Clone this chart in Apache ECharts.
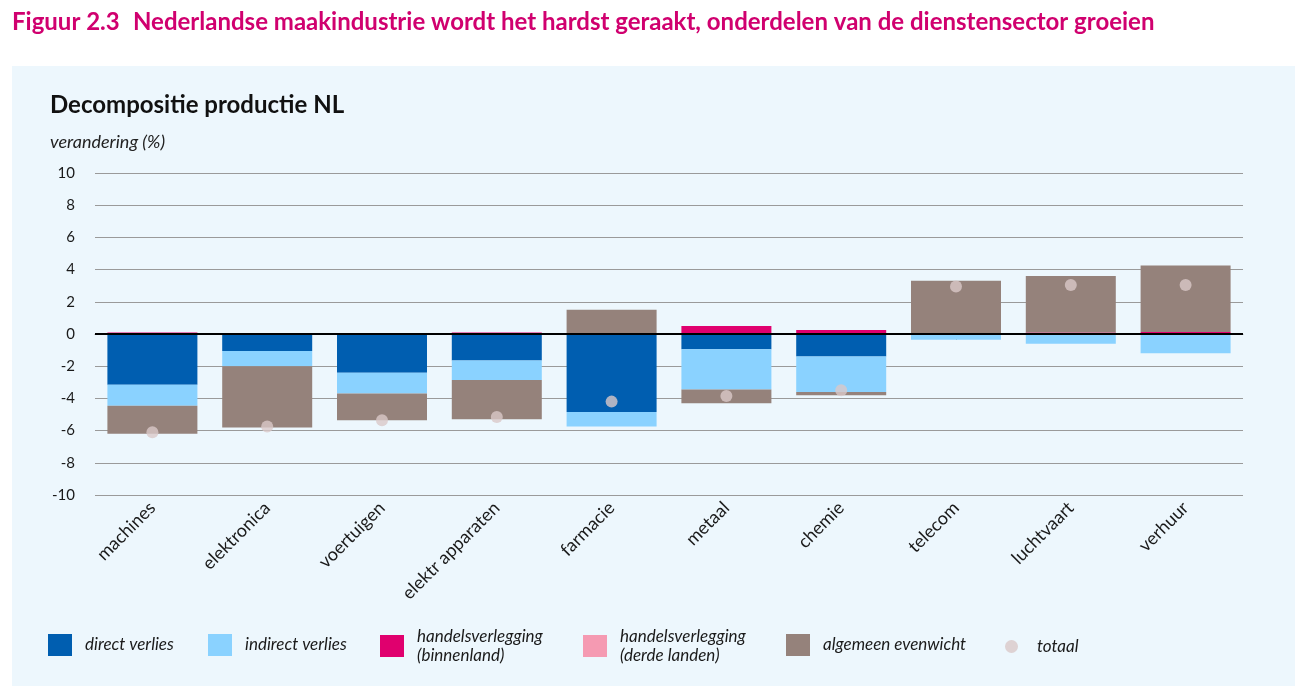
<!DOCTYPE html>
<html>
<head>
<meta charset="utf-8">
<script src="https://cdn.jsdelivr.net/npm/echarts@6/dist/echarts.min.js"></script>
<style>
html,body{margin:0;padding:0;background:#ffffff;}
#chart{width:1300px;height:696px;}
</style>
</head>
<body>
<div id="chart"></div>
<script>
var categories = ['machines','elektronica','voertuigen','elektr apparaten','farmacie','metaal','chemie','telecom','luchtvaart','verhuur'];
var directVerlies = [-3.15,-1.05,-2.4,-1.65,-4.85,-0.95,-1.4,0,0,0];
var indirectVerlies = [-1.3,-0.95,-1.3,-1.2,-0.9,-2.5,-2.2,-0.35,-0.6,-1.2];
var handelsBinnenland = [0.1,0,0,0.1,0,0.5,0.25,0,0.1,0.12];
var handelsDerdeLanden = [0,0,0,0,0,0,0,0,0,0];
var algemeenEvenwicht = [-1.75,-3.8,-1.65,-2.45,1.5,-0.85,-0.2,3.3,3.5,4.13];
var totaal = [-6.1,-5.75,-5.35,-5.15,-4.2,-3.85,-3.5,2.95,3.05,3.05];
var yTicks = {min:-10, max:10, interval:2};

var FONT = 'Lato';
var names = ['direct verlies','indirect verlies','handelsverlegging\n(binnenland)','handelsverlegging\n(derde landen)','algemeen evenwicht','totaal'];
var colors = ['#005eb0','#8ad2ff','#e0006e','#f59ab2','#95827b','#d9c8c8'];

function barSeries(i, data){
  return {
    name: names[i], type:'bar', stack:'s', data:data, barWidth:90,
    itemStyle:{color:colors[i]}, emphasis:{disabled:true}
  };
}
var series = [
  barSeries(0, directVerlies),
  barSeries(1, indirectVerlies),
  barSeries(2, handelsBinnenland),
  barSeries(3, handelsDerdeLanden),
  barSeries(4, algemeenEvenwicht),
  {
    name: names[5], type:'scatter', data: totaal, symbol:'circle', symbolSize:12, z:5,
    itemStyle:{color:colors[5]},
    markLine:{silent:true, symbol:'none', label:{show:false}, z:4,
      lineStyle:{color:'#000', width:2, type:'solid'}, data:[{yAxis:0}]}
  }
];

var legendPos = [
  {left:43, top:629},
  {left:203, top:629},
  {left:375, top:622},
  {left:578, top:622},
  {left:781, top:629},
  {left:1000, top:632}
];
var legends = names.map(function(n,i){
  var isDot = i===5;
  return {
    data:[{name:n, icon: isDot?'circle':'rect'}],
    left: legendPos[i].left, top: legendPos[i].top,
    itemWidth: isDot?13:24, itemHeight: isDot?13:22,
    selectedMode:false,
    textStyle:{fontFamily:FONT, fontStyle:'italic', fontSize:17, color:'#1a1a1a', lineHeight:19, padding:[0,0,0,isDot?14:8]}
  };
});

var chart = echarts.init(document.getElementById('chart'), null, {renderer:'canvas'});
chart.setOption({
  animation:false,
  backgroundColor:'#ffffff',
  graphic:[{type:'rect', shape:{x:12,y:66,width:1283,height:620}, style:{fill:'#edf7fd'}, z:-10, silent:true}],
  title:[
    {text:'Figuur 2.3', left:7, top:5, textStyle:{fontFamily:FONT, fontWeight:'bold', fontSize:24, color:'#d0006f'}},
    {text:'Nederlandse maakindustrie wordt het hardst geraakt, onderdelen van de dienstensector groeien', left:128, top:5, textStyle:{fontFamily:FONT, fontWeight:'bold', fontSize:24, color:'#d0006f'}},
    {text:'Decompositie productie NL', left:45, top:88, textStyle:{fontFamily:FONT, fontWeight:'bold', fontSize:24, color:'#111'}},
    {text:'verandering (%)', left:45, top:128, textStyle:{fontFamily:FONT, fontStyle:'italic', fontWeight:'normal', fontSize:18, color:'#222'}}
  ],
  legend: legends,
  grid:{left:95, right:57, top:173, bottom:201},
  xAxis:{
    type:'category', data:categories,
    axisLine:{show:true, lineStyle:{color:'#9a9a9a', width:1}},
    axisTick:{show:true, alignWithLabel:true, length:6, lineStyle:{color:'#9a9a9a'}},
    axisLabel:{rotate:45, margin:10, fontFamily:FONT, fontSize:18, color:'#1a1a1a', interval:0},
    splitLine:{show:false}
  },
  yAxis:{
    type:'value', min:yTicks.min, max:yTicks.max, interval:yTicks.interval,
    axisLine:{show:false}, axisTick:{show:false},
    axisLabel:{margin:20, fontFamily:FONT, fontSize:15, color:'#1a1a1a'},
    splitLine:{show:true, lineStyle:{color:'#9a9a9a', width:1}}
  },
  series: series
});
</script>
</body>
</html>
